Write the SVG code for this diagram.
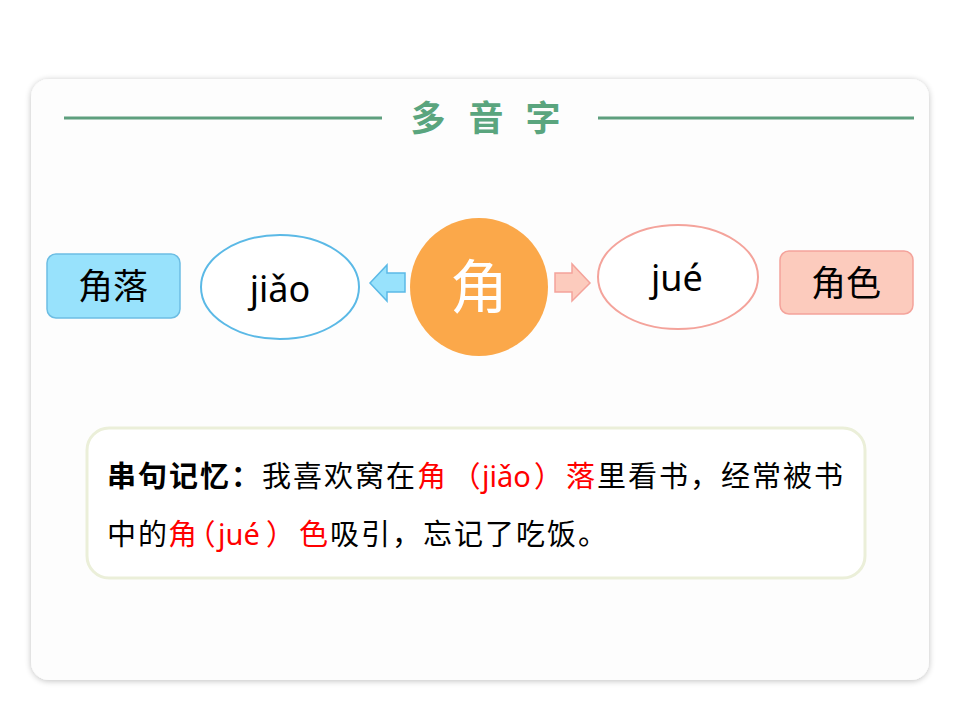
<svg xmlns="http://www.w3.org/2000/svg" width="960" height="720" viewBox="0 0 960 720">
<defs>
<filter id="sh" x="-5%" y="-5%" width="110%" height="110%">
<feGaussianBlur in="SourceAlpha" stdDeviation="3"/>
<feOffset dx="0" dy="1"/>
<feComponentTransfer><feFuncA type="linear" slope="0.25"/></feComponentTransfer>
<feMerge><feMergeNode/><feMergeNode in="SourceGraphic"/></feMerge>
</filter>
<style>
.cjk{font-family:"Noto Sans CJK SC","Noto Sans",sans-serif;}
.py{font-family:"Noto Sans","Noto Sans CJK SC",sans-serif;letter-spacing:0;}
.red{fill:#ff0000;}
.body{font-size:29px;letter-spacing:2px;fill:#000;}
.half{font-feature-settings:"halt";letter-spacing:0;}
</style>
</defs>
<rect width="960" height="720" fill="#ffffff"/>
<rect x="31" y="79" width="898" height="601" rx="18" fill="#fdfdfd" filter="url(#sh)"/>
<g id="title">
<line x1="64" y1="118" x2="382" y2="118" stroke="#5e9f7e" stroke-width="3"/>
<line x1="598" y1="118" x2="914" y2="118" stroke="#5e9f7e" stroke-width="3"/>
<text class="cjk" x="428" y="131" font-size="35" font-weight="bold" fill="#5aa57e" text-anchor="middle">多</text>
<text class="cjk" x="486" y="131" font-size="35" font-weight="bold" fill="#5aa57e" text-anchor="middle">音</text>
<text class="cjk" x="543" y="131" font-size="35" font-weight="bold" fill="#5aa57e" text-anchor="middle">字</text>
</g>
<g id="node-jiaoluo">
<rect x="47" y="254" width="133" height="64" rx="9" fill="#98e2fc" stroke="#6cbde3" stroke-width="1.5"/>
<text class="cjk" x="113" y="299" font-size="35" text-anchor="middle" fill="#000">角落</text>
</g>
<g id="node-jiao">
<ellipse cx="280" cy="287" rx="79" ry="52" fill="#ffffff" stroke="#5bb9e6" stroke-width="2"/>
<text class="py" x="280" y="302" font-size="36" text-anchor="middle" fill="#000">jiǎo</text>
</g>
<g id="node-center">
<circle cx="479" cy="287" r="69" fill="#fba84a"/>
<text class="cjk" x="479" y="308" font-size="58" text-anchor="middle" fill="#ffffff">角</text>
</g>
<g id="node-jue">
<ellipse cx="678" cy="277" rx="80" ry="52" fill="#ffffff" stroke="#f4a39b" stroke-width="2"/>
<text class="py" x="677" y="291" font-size="36" text-anchor="middle" fill="#000">jué</text>
</g>
<g id="node-juese">
<rect x="780" y="251" width="133" height="63" rx="9" fill="#fccbbd" stroke="#f4a39b" stroke-width="1.5"/>
<text class="cjk" x="846" y="296" font-size="35" text-anchor="middle" fill="#000">角色</text>
</g>
<g id="connectors">
<polygon points="370,283 387,265 387,273 405,273 405,292 387,292 387,301" fill="#98e2fc" stroke="#5bb9e6" stroke-width="1.5" stroke-linejoin="miter"/>
<polygon points="590,283 572,264 572,273 555,273 555,292 572,292 572,301" fill="#fccbbd" stroke="#f4a39b" stroke-width="1.5" stroke-linejoin="miter"/>
</g>
<g id="memory">
<rect x="87" y="428" width="778" height="150" rx="22" fill="#ffffff" stroke="#ebefd9" stroke-width="3"/>
<text class="cjk body" y="487"><tspan x="107" font-weight="bold">串句记忆</tspan><tspan x="231" font-weight="bold">：</tspan><tspan x="262">我喜欢窝在</tspan><tspan x="417" class="red">角</tspan><tspan x="466" class="red half">（</tspan><tspan x="482" class="red py">jiǎo</tspan><tspan x="534" class="red half">）</tspan><tspan x="566" class="red">落</tspan><tspan x="597">里看书</tspan><tspan x="690">，</tspan><tspan x="721">经常被书</tspan></text>
<text class="cjk body" y="545"><tspan x="107">中的</tspan><tspan x="168" class="red">角</tspan><tspan x="201" class="red half">（</tspan><tspan x="218" class="red py">jué</tspan><tspan x="266" class="red half">）</tspan><tspan x="299" class="red">色</tspan><tspan x="330">吸引</tspan><tspan x="392">，</tspan><tspan x="423">忘记了吃饭</tspan><tspan x="578">。</tspan></text>
</g>
</svg>
